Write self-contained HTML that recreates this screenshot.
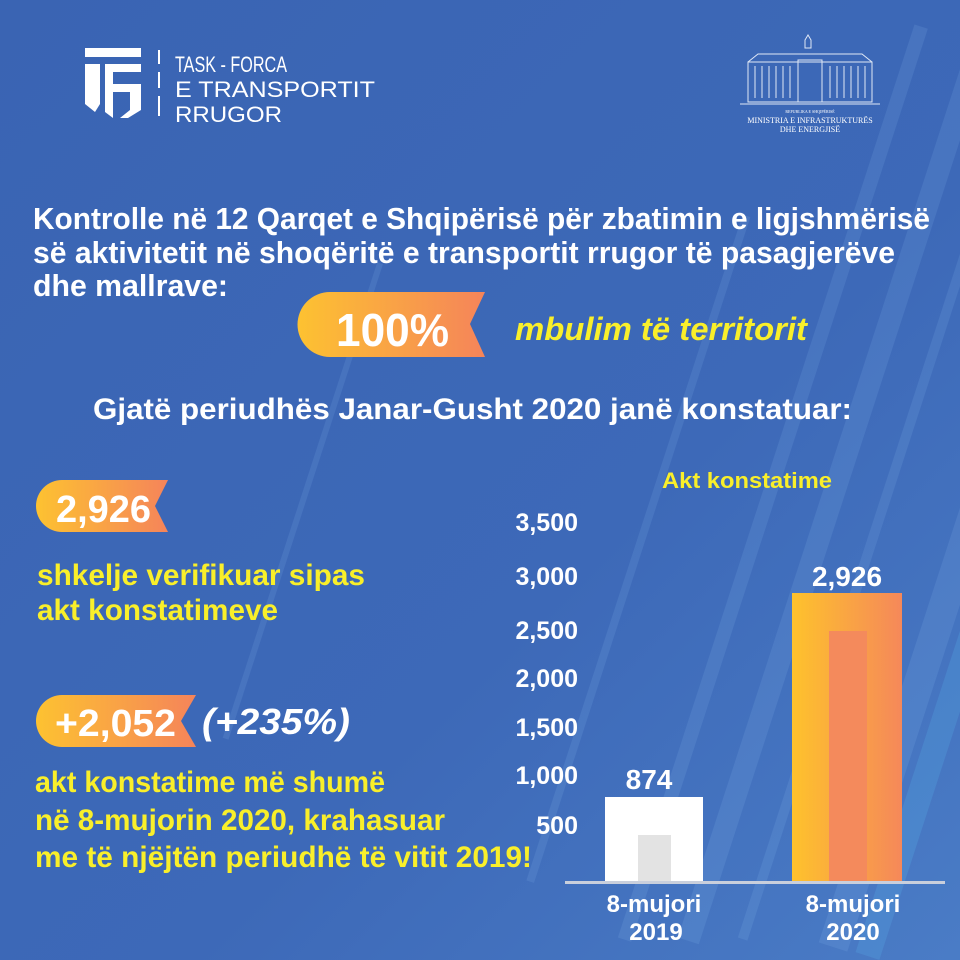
<!DOCTYPE html>
<html><head><meta charset="utf-8"><style>
html,body{margin:0;padding:0;width:960px;height:960px;overflow:hidden;background:#3c67b5}
svg{display:block;overflow:hidden}
.c{font-family:"Liberation Sans Narrow","Liberation Sans",sans-serif;font-weight:bold}
</style></head><body>
<svg width="960" height="960" viewBox="0 0 960 960" xmlns="http://www.w3.org/2000/svg">
<defs>
<clipPath id="clip"><rect width="960" height="960"/></clipPath>
<linearGradient id="bg" x1="0" y1="0" x2="1" y2="1">
<stop offset="0" stop-color="#3a64b3"/><stop offset="0.6" stop-color="#3d69b8"/><stop offset="1" stop-color="#4a7cc6"/></linearGradient>
<linearGradient id="og" x1="0" y1="0" x2="1" y2="0">
<stop offset="0" stop-color="#fdc231"/><stop offset="1" stop-color="#f5845a"/></linearGradient>
<linearGradient id="bar" x1="0" y1="0" x2="1" y2="0">
<stop offset="0" stop-color="#fec22c"/><stop offset="1" stop-color="#f5885a"/></linearGradient>
</defs>
<rect width="960" height="960" fill="url(#bg)"/>
<g clip-path="url(#clip)">
<g opacity="0.12" fill="#9fd0ff">
<rect x="760" y="0" width="14" height="960" transform="rotate(18 760 500)"/>
<rect x="820" y="0" width="22" height="960" transform="rotate(18 820 500)"/>
<rect x="880" y="100" width="10" height="860" transform="rotate(18 880 500)"/>
<rect x="650" y="200" width="8" height="700" transform="rotate(18 650 500)"/>
<rect x="930" y="300" width="30" height="660" transform="rotate(18 930 600)"/>
<rect x="300" y="250" width="6" height="500" transform="rotate(18 300 500)"/>
</g>
<g opacity="0.25" fill="#5ab0e6">
<rect x="905" y="600" width="25" height="360" transform="rotate(18 905 800)"/>
</g>
</g>
<!-- TF logo -->
<g fill="#fff">
<rect x="85" y="48" width="56" height="9"/>
<path d="M85 64 H100 V104 L95 112 L85 104 Z"/>
<path d="M105 64 H141 V72 H113 V84 H141 V110 L128 118 H120 L130 110 V92 H113 V118 L105 112 Z"/>
<rect x="158" y="50" width="2" height="14"/><rect x="158" y="72" width="2" height="16"/><rect x="158" y="96" width="2" height="20"/>
</g>
<g font-family="Liberation Sans,sans-serif" fill="#fff" font-size="22">
<text x="175" y="72" textLength="112" lengthAdjust="spacingAndGlyphs">TASK - FORCA</text>
<text x="175" y="97" textLength="200" lengthAdjust="spacingAndGlyphs">E TRANSPORTIT</text>
<text x="175" y="122" textLength="107" lengthAdjust="spacingAndGlyphs">RRUGOR</text>
</g>
<!-- Ministry logo -->
<g stroke="#dfe8f6" fill="none" stroke-width="1">
<path d="M805 40 l3 -5 l3 5 v8 h-6z"/>
<rect x="748" y="62" width="124" height="40"/>
<path d="M748 62 l10 -8 h104 l10 8"/>
<path d="M755 66 v32 M762 66 v32 M769 66 v32 M776 66 v32 M783 66 v32 M790 66 v32 M830 66 v32 M837 66 v32 M844 66 v32 M851 66 v32 M858 66 v32 M865 66 v32"/>
<rect x="798" y="60" width="24" height="42"/>
<path d="M740 104 h140"/>
</g>
<g font-family="Liberation Serif,serif" fill="#fff" text-anchor="middle">
<text x="810" y="113" font-size="4">REPUBLIKA E SHQIPËRISË</text>
<text x="810" y="123" font-size="8">MINISTRIA E INFRASTRUKTURËS</text>
<text x="810" y="132" font-size="8">DHE ENERGJISË</text>
</g>
<!-- heading -->
<g class="c" fill="#fff" font-size="31">
<text x="33" y="229" textLength="897" lengthAdjust="spacingAndGlyphs">Kontrolle në 12 Qarqet e Shqipërisë për zbatimin e ligjshmërisë</text>
<text x="33" y="263" textLength="862" lengthAdjust="spacingAndGlyphs">së aktivitetit në shoqëritë e transportit rrugor të pasagjerëve</text>
<text x="33" y="296" textLength="195" lengthAdjust="spacingAndGlyphs">dhe mallrave:</text>
</g>
<!-- 100% badge -->
<path d="M330 292 H485 L470 324 L485 357 H330 A32.5 32.5 0 0 1 330 292 Z" fill="url(#og)"/>
<text class="c" x="336" y="346" font-size="46" fill="#fff" textLength="113" lengthAdjust="spacingAndGlyphs">100%</text>
<text class="c" x="515" y="340" font-size="32" fill="#f9ef2a" font-style="italic" textLength="292" lengthAdjust="spacingAndGlyphs">mbulim të territorit</text>
<text class="c" x="93" y="419" font-size="30" fill="#fff" textLength="759" lengthAdjust="spacingAndGlyphs">Gjatë periudhës Janar-Gusht 2020 janë konstatuar:</text>
<!-- 2,926 badge -->
<path d="M62 480 H168 L155 506 L168 532 H62 A26 26 0 0 1 62 480 Z" fill="url(#og)"/>
<text class="c" x="56" y="522" font-size="38" fill="#fff" textLength="95" lengthAdjust="spacingAndGlyphs">2,926</text>
<g class="c" fill="#f9ef2a" font-size="30">
<text x="37" y="585" textLength="328" lengthAdjust="spacingAndGlyphs">shkelje verifikuar sipas</text>
<text x="37" y="620" textLength="241" lengthAdjust="spacingAndGlyphs">akt konstatimeve</text>
</g>
<!-- +2,052 badge -->
<path d="M62 695 H196 L181 721 L196 747 H62 A26 26 0 0 1 62 695 Z" fill="url(#og)"/>
<text class="c" x="55" y="736" font-size="38" fill="#fff" textLength="121" lengthAdjust="spacingAndGlyphs">+2,052</text>
<text class="c" x="202" y="734" font-size="36" fill="#fff" font-style="italic" textLength="148" lengthAdjust="spacingAndGlyphs">(+235%)</text>
<g class="c" fill="#f9ef2a" font-size="30">
<text x="35" y="792" textLength="350" lengthAdjust="spacingAndGlyphs">akt konstatime më shumë</text>
<text x="35" y="830" textLength="410" lengthAdjust="spacingAndGlyphs">në 8-mujorin 2020, krahasuar</text>
<text x="35" y="867" textLength="497" lengthAdjust="spacingAndGlyphs">me të njëjtën periudhë të vitit 2019!</text>
</g>
<!-- chart -->
<text class="c" x="747" y="488" font-size="22" fill="#f9ef2a" text-anchor="middle" textLength="170" lengthAdjust="spacingAndGlyphs">Akt konstatime</text>
<g class="c" fill="#fff" font-size="25" text-anchor="end">
<text x="578" y="531">3,500</text>
<text x="578" y="585">3,000</text>
<text x="578" y="639">2,500</text>
<text x="578" y="687">2,000</text>
<text x="578" y="736">1,500</text>
<text x="578" y="784">1,000</text>
<text x="578" y="834">500</text>
</g>
<rect x="605" y="797" width="98" height="85" fill="#fff"/>
<rect x="638" y="835" width="33" height="47" fill="#e3e3e3"/>
<rect x="792" y="593" width="110" height="289" fill="url(#bar)"/>
<rect x="829" y="631" width="38" height="251" fill="#f48a5c"/>
<rect x="565" y="881" width="380" height="3" fill="#c9cfdc"/>
<g class="c" fill="#fff" text-anchor="middle">
<text x="649" y="789" font-size="28">874</text>
<text x="847" y="586" font-size="28">2,926</text>
<text x="654" y="912" font-size="24">8-mujori</text>
<text x="656" y="940" font-size="24">2019</text>
<text x="853" y="912" font-size="24">8-mujori</text>
<text x="853" y="940" font-size="24">2020</text>
</g>
</svg>
</body></html>
